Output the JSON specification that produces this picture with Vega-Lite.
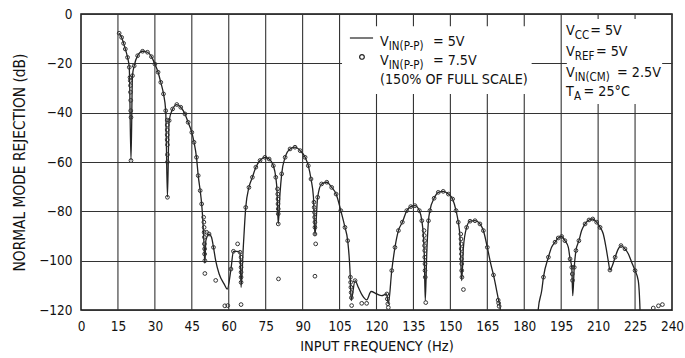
{
  "$schema": "https://vega.github.io/schema/vega-lite/v6.json",
  "width": 591,
  "height": 296,
  "autosize": {"type": "none"},
  "padding": {"left": 81, "top": 14, "right": 13, "bottom": 48},
  "background": "white",
  "config": {
    "view": {"stroke": "#111", "strokeWidth": 1.5},
    "font": "DejaVu Sans Condensed, sans-serif",
    "axis": {
      "labelFont": "DejaVu Sans Condensed, sans-serif",
      "titleFont": "DejaVu Sans Condensed, sans-serif",
      "labelFontSize": 13.5,
      "titleFontSize": 14.5,
      "titleFontWeight": "normal",
      "labelColor": "#111",
      "titleColor": "#111",
      "grid": true,
      "gridColor": "#333",
      "gridWidth": 1.1,
      "gridOpacity": 1,
      "ticks": false,
      "domain": false,
      "labelOverlap": false,
      "labelFlush": false
    }
  },
  "datasets": {
    "xgrid": [
      {"f": 15, "db": 0, "db2": -120}, {"f": 30, "db": 0, "db2": -120}, {"f": 45, "db": 0, "db2": -120},
      {"f": 60, "db": 0, "db2": -120}, {"f": 75, "db": 0, "db2": -120}, {"f": 90, "db": 0, "db2": -120},
      {"f": 105, "db": 0, "db2": -120}, {"f": 120, "db": 0, "db2": -120}, {"f": 135, "db": 0, "db2": -120},
      {"f": 150, "db": 0, "db2": -120}, {"f": 165, "db": 0, "db2": -120}, {"f": 180, "db": 0, "db2": -120},
      {"f": 195, "db": 0, "db2": -120}, {"f": 210, "db": 0, "db2": -120}, {"f": 225, "db": 0, "db2": -120}
    ],
    "boxes": [
      {"f": 106, "f2": 183, "db": -5, "db2": -32.4},
      {"f": 197.3, "f2": 236, "db": -2, "db2": -36.5}
    ],
    "v5": [
      {"f": 15.5, "db": -7.8}, {"f": 16.5, "db": -9.5}, {"f": 17.3, "db": -11.9}, {"f": 18.0, "db": -14.2},
      {"f": 18.9, "db": -17.6}, {"f": 19.6, "db": -21.6}, {"f": 20.3, "db": -59.4}, {"f": 20.9, "db": -25},
      {"f": 21.6, "db": -21}, {"f": 23.0, "db": -16.9}, {"f": 25.0, "db": -15.1}, {"f": 27.0, "db": -15.5},
      {"f": 28.6, "db": -17.3}, {"f": 30.0, "db": -20.3}, {"f": 31.3, "db": -23.6}, {"f": 32.4, "db": -27.7},
      {"f": 33.5, "db": -32.4}, {"f": 34.4, "db": -39.2}, {"f": 35.1, "db": -74.3}, {"f": 35.8, "db": -43.2},
      {"f": 37.2, "db": -38.5}, {"f": 38.9, "db": -36.7}, {"f": 40.5, "db": -37.8}, {"f": 42.2, "db": -40.5},
      {"f": 43.5, "db": -43.9}, {"f": 45.0, "db": -48}, {"f": 45.9, "db": -52}, {"f": 46.9, "db": -58.1},
      {"f": 47.6, "db": -65.5}, {"f": 48.4, "db": -71.6}, {"f": 49.0, "db": -77}, {"f": 49.4, "db": -82.4},
      {"f": 49.7, "db": -87.8}, {"f": 50.0, "db": -94.6}, {"f": 50.3, "db": -101}, {"f": 50.7, "db": -91.9},
      {"f": 52.0, "db": -89.2}, {"f": 53.0, "db": -90.5}, {"f": 53.8, "db": -94.6}, {"f": 54.7, "db": -100},
      {"f": 56.1, "db": -105.4}, {"f": 58.1, "db": -109.4}, {"f": 59.4, "db": -111.5}, {"f": 60.9, "db": -103.4},
      {"f": 61.9, "db": -96.2}, {"f": 63.2, "db": -96.2}, {"f": 64.6, "db": -96.6}, {"f": 65.0, "db": -110.8},
      {"f": 65.9, "db": -94.6}, {"f": 66.9, "db": -78.4}, {"f": 68.2, "db": -70.3}, {"f": 69.6, "db": -66.2},
      {"f": 71.0, "db": -62.1}, {"f": 72.7, "db": -59.4}, {"f": 74.7, "db": -58.1}, {"f": 76.4, "db": -58.8},
      {"f": 78.1, "db": -61.5}, {"f": 79.1, "db": -66.2}, {"f": 79.6, "db": -71.6}, {"f": 80.1, "db": -85.1},
      {"f": 80.8, "db": -73}, {"f": 81.5, "db": -64.8}, {"f": 82.9, "db": -58.1}, {"f": 84.9, "db": -54.7},
      {"f": 86.9, "db": -54}, {"f": 89.0, "db": -55.4}, {"f": 91.0, "db": -58.1}, {"f": 92.3, "db": -61.5},
      {"f": 93.4, "db": -66.9}, {"f": 94.4, "db": -74.3}, {"f": 95.0, "db": -89.8}, {"f": 96.1, "db": -74.3},
      {"f": 97.7, "db": -68.9}, {"f": 99.8, "db": -68.2}, {"f": 101.8, "db": -70.3}, {"f": 103.6, "db": -73},
      {"f": 105.5, "db": -79.7}, {"f": 107.2, "db": -86.5}, {"f": 108.3, "db": -91.9}, {"f": 109.3, "db": -105.4},
      {"f": 109.7, "db": -116.2}, {"f": 111.3, "db": -108.1}, {"f": 112.6, "db": -110.8}, {"f": 114.3, "db": -114.2},
      {"f": 116.0, "db": -115.9}, {"f": 117.8, "db": -112.5}, {"f": 120.1, "db": -113.5}, {"f": 122.1, "db": -114.2},
      {"f": 124.1, "db": -113.5}, {"f": 124.8, "db": -117.5}, {"f": 126.2, "db": -104}, {"f": 127.5, "db": -94.6},
      {"f": 128.9, "db": -87.8}, {"f": 130.5, "db": -84.4}, {"f": 132.3, "db": -79.7}, {"f": 133.9, "db": -78.1},
      {"f": 135.6, "db": -77.7}, {"f": 137.4, "db": -79.7}, {"f": 138.4, "db": -83.8}, {"f": 139.0, "db": -89.2},
      {"f": 139.4, "db": -97.3}, {"f": 139.8, "db": -116.2}, {"f": 140.4, "db": -97.3}, {"f": 141.1, "db": -83.8},
      {"f": 141.7, "db": -79.7}, {"f": 143.4, "db": -74.7}, {"f": 145.1, "db": -72.3}, {"f": 147.1, "db": -71.9},
      {"f": 149.2, "db": -73}, {"f": 150.9, "db": -75}, {"f": 152.3, "db": -79.7}, {"f": 153.2, "db": -84.4},
      {"f": 153.9, "db": -90.5}, {"f": 154.6, "db": -108.1}, {"f": 155.3, "db": -94.6}, {"f": 156.6, "db": -86.5},
      {"f": 158.0, "db": -84}, {"f": 160.0, "db": -83.8}, {"f": 162.0, "db": -85.1}, {"f": 163.4, "db": -87.8},
      {"f": 165.0, "db": -94.6}, {"f": 166.4, "db": -101.3}, {"f": 167.7, "db": -106.7}, {"f": 168.8, "db": -112.1},
      {"f": 169.6, "db": -116.2}, {"f": 170.2, "db": -118.9}, {"f": 170.6, "db": -126}, {"f": 185.3, "db": -126},
      {"f": 185.7, "db": -119.6}, {"f": 187.1, "db": -112.1}, {"f": 187.8, "db": -106.7}, {"f": 189.8, "db": -98.6},
      {"f": 191.1, "db": -94.6}, {"f": 192.5, "db": -92.5}, {"f": 193.8, "db": -90.8}, {"f": 195.2, "db": -90.2},
      {"f": 196.5, "db": -91.9}, {"f": 197.9, "db": -94.6}, {"f": 198.6, "db": -99.3}, {"f": 199.3, "db": -102.7},
      {"f": 199.7, "db": -114.2}, {"f": 200.3, "db": -102.7}, {"f": 201.0, "db": -95.9}, {"f": 202.2, "db": -91.9},
      {"f": 203.3, "db": -87.8}, {"f": 204.7, "db": -85.1}, {"f": 206.3, "db": -83.5}, {"f": 207.8, "db": -83.1},
      {"f": 209.4, "db": -84.4}, {"f": 210.8, "db": -86.5}, {"f": 212.1, "db": -89.2}, {"f": 213.2, "db": -94.6},
      {"f": 214.2, "db": -100.6}, {"f": 214.8, "db": -103.8}, {"f": 215.8, "db": -102}, {"f": 216.9, "db": -98.6},
      {"f": 218.2, "db": -95.2}, {"f": 219.3, "db": -93.9}, {"f": 220.9, "db": -95.2}, {"f": 222.3, "db": -97.3},
      {"f": 223.6, "db": -100.6}, {"f": 225.0, "db": -104}, {"f": 226.3, "db": -108.1}, {"f": 227.0, "db": -119.6},
      {"f": 227.2, "db": -126}
    ],
    "v75": [
      {"f": 15.5, "db": -7.8}, {"f": 16.5, "db": -9.5}, {"f": 17.3, "db": -11.9}, {"f": 18.0, "db": -14.2},
      {"f": 18.9, "db": -17.6}, {"f": 19.6, "db": -21.6}, {"f": 19.9, "db": -25.7}, {"f": 20.0, "db": -27},
      {"f": 20.1, "db": -29}, {"f": 20.1, "db": -31.7}, {"f": 20.2, "db": -35}, {"f": 20.2, "db": -39.2},
      {"f": 20.3, "db": -41.9}, {"f": 20.3, "db": -59.4}, {"f": 20.9, "db": -25}, {"f": 21.6, "db": -21},
      {"f": 23.0, "db": -16.9}, {"f": 25.0, "db": -15.1}, {"f": 27.0, "db": -15.5}, {"f": 28.6, "db": -17.3},
      {"f": 30.0, "db": -20.3}, {"f": 31.3, "db": -23.6}, {"f": 32.4, "db": -27.7}, {"f": 33.5, "db": -32.4},
      {"f": 34.4, "db": -39.2}, {"f": 35.0, "db": -43}, {"f": 35.0, "db": -45}, {"f": 35.0, "db": -47},
      {"f": 35.0, "db": -49}, {"f": 35.0, "db": -51}, {"f": 35.1, "db": -53}, {"f": 35.1, "db": -57},
      {"f": 35.1, "db": -60}, {"f": 35.1, "db": -74.3}, {"f": 35.8, "db": -43.2}, {"f": 37.2, "db": -38.5},
      {"f": 38.9, "db": -36.7}, {"f": 40.5, "db": -37.8}, {"f": 42.2, "db": -40.5}, {"f": 43.5, "db": -43.9},
      {"f": 45.0, "db": -48}, {"f": 45.9, "db": -52}, {"f": 46.9, "db": -58.1}, {"f": 47.6, "db": -65.5},
      {"f": 48.4, "db": -71.6}, {"f": 49.0, "db": -77}, {"f": 49.8, "db": -82.4}, {"f": 49.9, "db": -84.4},
      {"f": 50.0, "db": -86.5}, {"f": 50.0, "db": -88.5}, {"f": 50.1, "db": -90.5}, {"f": 50.1, "db": -93.2},
      {"f": 50.2, "db": -95.2}, {"f": 50.2, "db": -97.3}, {"f": 50.3, "db": -100}, {"f": 50.3, "db": -105.2},
      {"f": 51.0, "db": -88.5}, {"f": 52.0, "db": -89.2}, {"f": 53.8, "db": -94.6}, {"f": 54.7, "db": -108},
      {"f": 58.4, "db": -118.3}, {"f": 59.6, "db": -118.2}, {"f": 60.9, "db": -103.4}, {"f": 61.9, "db": -96.2},
      {"f": 63.6, "db": -93.2}, {"f": 64.6, "db": -96.6}, {"f": 65.0, "db": -98.6}, {"f": 65.0, "db": -100.6},
      {"f": 65.0, "db": -102.7}, {"f": 65.0, "db": -104.7}, {"f": 65.0, "db": -106.7}, {"f": 65.0, "db": -108.8},
      {"f": 65.0, "db": -117.8}, {"f": 66.9, "db": -78.4}, {"f": 68.2, "db": -70.3}, {"f": 69.6, "db": -66.2},
      {"f": 71.0, "db": -62.1}, {"f": 72.7, "db": -59.4}, {"f": 74.7, "db": -58.1}, {"f": 76.4, "db": -58.8},
      {"f": 78.1, "db": -61.5}, {"f": 79.1, "db": -66.2}, {"f": 79.8, "db": -70.9}, {"f": 79.9, "db": -73},
      {"f": 80.0, "db": -75}, {"f": 80.0, "db": -77}, {"f": 80.1, "db": -79}, {"f": 80.1, "db": -81},
      {"f": 80.1, "db": -85.1}, {"f": 80.2, "db": -107.4}, {"f": 81.5, "db": -64.8}, {"f": 82.9, "db": -58.1},
      {"f": 84.9, "db": -54.7}, {"f": 86.9, "db": -54}, {"f": 89.0, "db": -55.4}, {"f": 91.0, "db": -58.1},
      {"f": 92.3, "db": -61.5}, {"f": 93.4, "db": -66.9}, {"f": 94.6, "db": -76.3}, {"f": 94.7, "db": -78.4},
      {"f": 94.8, "db": -80.4}, {"f": 94.9, "db": -82.4}, {"f": 95.0, "db": -84.4}, {"f": 95.0, "db": -86.5},
      {"f": 95.0, "db": -89.2}, {"f": 95.3, "db": -93.2}, {"f": 95.0, "db": -106.3}, {"f": 96.1, "db": -74.3},
      {"f": 97.7, "db": -68.9}, {"f": 99.8, "db": -68.2}, {"f": 101.8, "db": -70.3}, {"f": 103.6, "db": -73},
      {"f": 105.5, "db": -79.7}, {"f": 107.2, "db": -86.5}, {"f": 108.3, "db": -91.9}, {"f": 109.4, "db": -106.7},
      {"f": 109.5, "db": -108.8}, {"f": 109.6, "db": -110.8}, {"f": 109.7, "db": -112.9}, {"f": 109.8, "db": -115},
      {"f": 109.9, "db": -118.2}, {"f": 111.3, "db": -108.1}, {"f": 114.0, "db": -117.3}, {"f": 116.0, "db": -117.3},
      {"f": 124.2, "db": -113.5}, {"f": 124.4, "db": -115.5}, {"f": 124.6, "db": -117.5}, {"f": 124.8, "db": -119},
      {"f": 126.2, "db": -104}, {"f": 127.5, "db": -94.6}, {"f": 128.9, "db": -87.8}, {"f": 130.5, "db": -84.4},
      {"f": 132.3, "db": -79.7}, {"f": 133.9, "db": -78.1}, {"f": 135.6, "db": -77.7}, {"f": 137.4, "db": -79.7},
      {"f": 138.4, "db": -83.8}, {"f": 139.3, "db": -87.8}, {"f": 139.4, "db": -89.8}, {"f": 139.5, "db": -91.9},
      {"f": 139.5, "db": -93.9}, {"f": 139.6, "db": -95.9}, {"f": 139.6, "db": -98.6}, {"f": 139.7, "db": -101.3},
      {"f": 139.7, "db": -104}, {"f": 139.8, "db": -106.7}, {"f": 140.0, "db": -117}, {"f": 141.1, "db": -83.8},
      {"f": 141.7, "db": -79.7}, {"f": 143.4, "db": -74.7}, {"f": 145.1, "db": -72.3}, {"f": 147.1, "db": -71.9},
      {"f": 149.2, "db": -73}, {"f": 150.9, "db": -75}, {"f": 152.3, "db": -79.7}, {"f": 153.2, "db": -84.4},
      {"f": 154.2, "db": -89.2}, {"f": 154.3, "db": -91.2}, {"f": 154.4, "db": -93.2}, {"f": 154.4, "db": -95.2},
      {"f": 154.5, "db": -97.3}, {"f": 154.5, "db": -99.3}, {"f": 154.6, "db": -101.3}, {"f": 154.6, "db": -104},
      {"f": 154.7, "db": -106.7}, {"f": 155.3, "db": -111.7}, {"f": 156.6, "db": -86.5}, {"f": 158.0, "db": -84},
      {"f": 160.0, "db": -83.8}, {"f": 162.0, "db": -85.1}, {"f": 163.4, "db": -87.8}, {"f": 165.0, "db": -94.6},
      {"f": 167.5, "db": -105.8}, {"f": 169.4, "db": -116}, {"f": 169.6, "db": -117.2}, {"f": 169.8, "db": -118.5},
      {"f": 187.8, "db": -106.7}, {"f": 189.8, "db": -98.6}, {"f": 192.5, "db": -92.5}, {"f": 193.8, "db": -90.8},
      {"f": 195.2, "db": -90.2}, {"f": 196.5, "db": -91.9}, {"f": 198.6, "db": -99.3}, {"f": 199.3, "db": -102.7},
      {"f": 199.5, "db": -105.4}, {"f": 199.6, "db": -108}, {"f": 200.3, "db": -102.7}, {"f": 201.0, "db": -95.9},
      {"f": 202.2, "db": -91.9}, {"f": 204.7, "db": -85.1}, {"f": 206.3, "db": -83.5}, {"f": 207.8, "db": -83.1},
      {"f": 209.4, "db": -84.4}, {"f": 210.8, "db": -86.5}, {"f": 214.8, "db": -103.8}, {"f": 216.9, "db": -98.6},
      {"f": 219.3, "db": -93.9}, {"f": 220.9, "db": -95.2}, {"f": 225.0, "db": -104}, {"f": 232.4, "db": -119.2},
      {"f": 234.5, "db": -118.3}, {"f": 236.1, "db": -117.8}
    ],
    "legline": [{"f": 109.2, "f2": 118.6, "db": -9.73}],
    "legpt": [{"f": 114.1, "db": -17.4}],
    "notes": [
      {"f": 121.4, "db": -12.97, "text": "V"},
      {"f": 142.9, "db": -12.97, "text": "= 5V"},
      {"f": 121.4, "db": -20.68, "text": "V"},
      {"f": 142.9, "db": -20.68, "text": "= 7.5V"},
      {"f": 121.4, "db": -28.38, "text": "(150% OF FULL SCALE)"},
      {"f": 196.95, "db": -8.51, "text": "V"},
      {"f": 206.8, "db": -8.51, "text": "= 5V"},
      {"f": 196.95, "db": -17.03, "text": "V"},
      {"f": 209.1, "db": -17.03, "text": "= 5V"},
      {"f": 196.95, "db": -25.54, "text": "V"},
      {"f": 217.7, "db": -25.54, "text": "= 2.5V"},
      {"f": 196.95, "db": -33.24, "text": "T"},
      {"f": 204.1, "db": -33.24, "text": "= 25°C"}
    ],
    "subs": [
      {"f": 125.0, "db": -14.6, "text": "IN(P-P)"},
      {"f": 125.0, "db": -22.3, "text": "IN(P-P)"},
      {"f": 200.5, "db": -10.14, "text": "CC"},
      {"f": 200.5, "db": -18.65, "text": "REF"},
      {"f": 200.5, "db": -27.16, "text": "IN(CM)"},
      {"f": 200.2, "db": -34.87, "text": "A"}
    ]
  },
  "encoding": {
    "x": {"field": "f", "type": "quantitative",
          "scale": {"domain": [0, 240], "nice": false, "zero": false},
          "axis": {"title": "INPUT FREQUENCY (Hz)", "values": [0,15,30,45,60,75,90,105,120,135,150,165,180,195,210,225,240],
                   "grid": false, "labelPadding": 9, "titlePadding": 7}},
    "y": {"field": "db", "type": "quantitative",
          "scale": {"domain": [-120, 0], "nice": false, "zero": false},
          "axis": {"title": "NORMAL MODE REJECTION (dB)", "values": [-120,-100,-80,-60,-40,-20,0],
                   "labelPadding": 9, "titlePadding": 11, "titleFontSize": 15.3}}
  },
  "layer": [
    {
      "data": {"name": "xgrid"},
      "mark": {"type": "rule", "stroke": "#333", "strokeWidth": 1.1},
      "encoding": {
        "y2": {"field": "db2"}
      }
    },
    {
      "data": {"name": "boxes"},
      "mark": {"type": "rect", "fill": "white", "stroke": null},
      "encoding": {
        "x2": {"field": "f2"},
        "y2": {"field": "db2"}
      }
    },
    {
      "data": {"name": "v5"},
      "mark": {"type": "line", "stroke": "#222", "strokeWidth": 1.3, "interpolate": "monotone", "clip": true},
      "encoding": {}
    },
    {
      "data": {"name": "v75"},
      "mark": {"type": "point", "shape": "circle", "filled": false, "stroke": "#333", "strokeWidth": 1, "size": 14, "opacity": 1, "clip": true}
    },
    {
      "data": {"name": "legline"},
      "mark": {"type": "rule", "stroke": "#222", "strokeWidth": 1.2},
      "encoding": {
        "x2": {"field": "f2"}
      }
    },
    {
      "data": {"name": "legpt"},
      "mark": {"type": "point", "shape": "circle", "filled": false, "stroke": "#222", "strokeWidth": 1.2, "size": 22, "opacity": 1}
    },
    {
      "data": {"name": "notes"},
      "mark": {"type": "text", "align": "left", "baseline": "alphabetic", "fontSize": 14.2, "color": "#111",
               "font": "DejaVu Sans Condensed, sans-serif"},
      "encoding": {
        "text": {"field": "text"}
      }
    },
    {
      "data": {"name": "subs"},
      "mark": {"type": "text", "align": "left", "baseline": "alphabetic", "fontSize": 11.5, "color": "#111",
               "font": "DejaVu Sans Condensed, sans-serif"},
      "encoding": {
        "text": {"field": "text"}
      }
    }
  ]
}
